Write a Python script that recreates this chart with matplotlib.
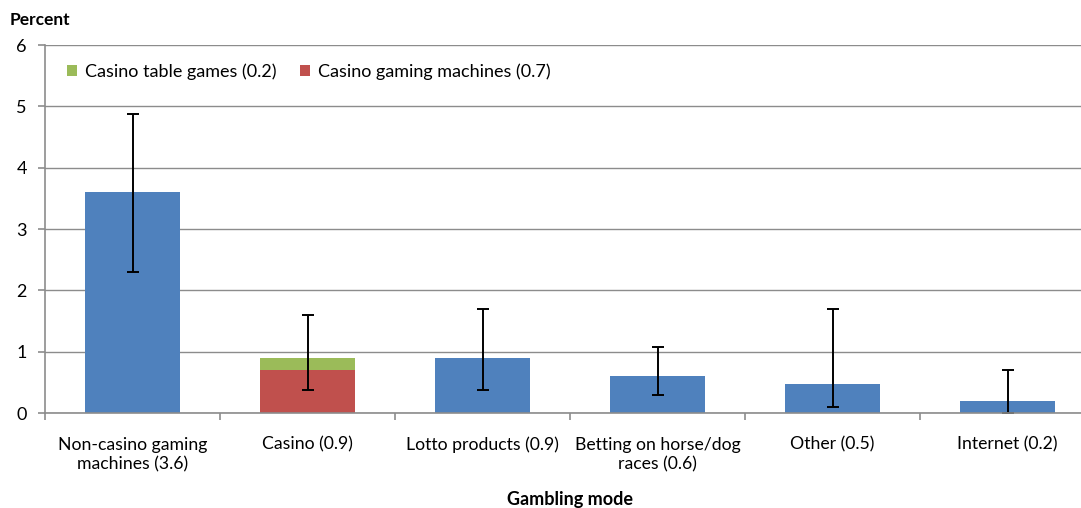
import matplotlib
matplotlib.use("Agg")
import matplotlib.pyplot as plt
import numpy as np

categories = ["Non-casino gaming\nmachines (3.6)", "Casino (0.9)", "Lotto products (0.9)",
              "Betting on horse/dog\nraces (0.6)", "Other (0.5)", "Internet (0.2)"]
main_values = [3.6, 0.0, 0.9, 0.6, 0.48, 0.2]
casino_machines = [0.0, 0.7, 0.0, 0.0, 0.0, 0.0]
casino_table = [0.0, 0.2, 0.0, 0.0, 0.0, 0.0]
ci_low = [2.3, 0.38, 0.38, 0.29, 0.1, 0.0]
ci_high = [4.88, 1.59, 1.69, 1.08, 1.69, 0.7]
totals = [3.6, 0.9, 0.9, 0.6, 0.48, 0.2]

plt.rcParams['font.family'] = ['Lato', 'DejaVu Sans']

fig = plt.figure(figsize=(10.81, 5.08), dpi=100)
ax = fig.add_axes([45/1081, 95/508, 1050/1081, 368/508])

x = np.arange(len(categories))
w = 0.54
blue = "#4F81BD"; red = "#C0504D"; green = "#9BBB59"
ax.bar(x, main_values, w, color=blue, zorder=2)
ax.bar(x, casino_machines, w, color=red, zorder=2, label="Casino gaming machines (0.7)")
ax.bar(x, casino_table, w, bottom=casino_machines, color=green, zorder=2, label="Casino table games (0.2)")

tot = np.array(totals)
yerr = np.array([tot - np.array(ci_low), np.array(ci_high) - tot])
ax.errorbar(x, tot, yerr=yerr, fmt='none', ecolor='black', elinewidth=1.4, capsize=4, capthick=1.4, zorder=3)

ax.set_xlim(-0.5, len(categories) - 0.5)
ax.set_ylim(0, 6)
ax.set_yticks(range(0, 7))
ax.yaxis.grid(True, color="#8c8c8c", linewidth=1, zorder=0)
ax.set_axisbelow(True)
for s in ["top", "right"]:
    ax.spines[s].set_visible(False)
for s in ["left", "bottom"]:
    ax.spines[s].set_color("#8c8c8c")
    ax.spines[s].set_linewidth(1.2)
ax.spines["bottom"].set_zorder(4)

ax.set_xticks(x)
ax.set_xticklabels(categories, fontsize=12.7, linespacing=1.25)
ax.tick_params(axis='x', length=0, pad=17)
ax.set_xticks(np.arange(-0.5, len(categories), 1), minor=True)
ax.tick_params(axis='x', which='minor', length=5, color="#8c8c8c", width=1.2)
ax.tick_params(axis='y', length=5, color="#8c8c8c", width=1.2, labelsize=13, pad=8)

handles, labels = ax.get_legend_handles_labels()
order = [1, 0]
ax.legend([handles[i] for i in order], [labels[i] for i in order], loc='upper left',
          ncol=2, frameon=False, fontsize=13, handlelength=0.6, handleheight=0.6,
          handletextpad=0.4, columnspacing=1.3, bbox_to_anchor=(0.005, 0.995))

fig.text(10/1081, 1 - 20/508, "Percent", fontsize=12.5, fontweight='bold', va='center', ha='left')
fig.text(570/1081, 1 - 499/508, "Gambling mode", fontsize=13, fontweight='bold', va='center', ha='center')

fig.savefig("out.png", dpi=100)
